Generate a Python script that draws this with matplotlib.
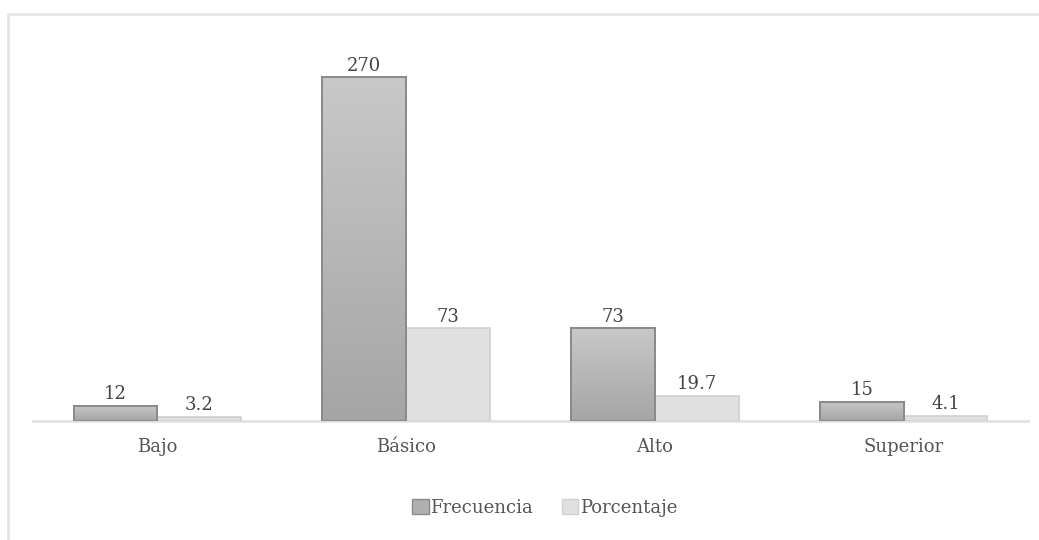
import numpy as np
import matplotlib
matplotlib.use("Agg")
import matplotlib.pyplot as plt
from matplotlib.lines import Line2D
from matplotlib.patches import Patch

# Data
categorias = ["Bajo", "Básico", "Alto", "Superior"]
frecuencia = [12, 270, 73, 15]
porcentaje = [3.2, 73, 19.7, 4.1]
etiquetas_frec = ["12", "270", "73", "15"]
etiquetas_porc = ["3.2", "73", "19.7", "4.1"]

plt.rcParams["font.family"] = ["DejaVu Serif"]

fig = plt.figure(figsize=(10.39, 5.40), dpi=100)
ax = fig.add_axes([33 / 1039, 1 - 421 / 540, 995 / 1039, 382 / 540])

x = np.arange(len(categorias))
w = 0.337

# Frequency bars with vertical gradient (lighter at top)
b1 = ax.bar(x - w / 2, frecuencia, w, color="#b6b6b6", edgecolor="#8a8a8a",
            linewidth=1.4, zorder=3, label="Frecuencia")
grad = np.linspace(0, 1, 256).reshape(-1, 1)
cmap = matplotlib.colors.LinearSegmentedColormap.from_list("g", ["#a5a5a5", "#c8c8c8"])
for r in b1:
    x0, y0 = r.get_x(), r.get_y()
    im = ax.imshow(grad, cmap=cmap, aspect="auto", zorder=3.5,
                   extent=[x0, x0 + r.get_width(), y0 + r.get_height(), y0],
                   origin="upper")
    im.set_clip_path(r)
    r2 = plt.Rectangle((x0, y0), r.get_width(), r.get_height(), fill=False,
                       edgecolor="#8a8a8a", linewidth=1.4, zorder=4)
    ax.add_patch(r2)

b2 = ax.bar(x + w / 2, porcentaje, w, color="#e0e0e0", edgecolor="#d0d0d0",
            linewidth=1.2, zorder=3, label="Porcentaje")

for r, t in zip(b1, etiquetas_frec):
    ax.text(r.get_x() + r.get_width() / 2, r.get_height() + 2, t,
            ha="center", va="bottom", fontsize=13, color="#444444")
for r, t in zip(b2, etiquetas_porc):
    ax.text(r.get_x() + r.get_width() / 2, r.get_height() + 2, t,
            ha="center", va="bottom", fontsize=13, color="#444444")

ax.set_xlim(-0.5, 3.5)
ax.set_ylim(0, 300)
ax.set_xticks(x)
ax.set_xticklabels(categorias, fontsize=13, color="#555555")
ax.tick_params(axis="x", length=0, pad=12)
ax.set_yticks([])
for s in ["top", "right", "left"]:
    ax.spines[s].set_visible(False)
ax.spines["bottom"].set_color("#e2e2e2")
ax.spines["bottom"].set_linewidth(2)
ax.spines["bottom"].set_zorder(2)

handles = [Patch(facecolor="#b0b0b0", edgecolor="#8a8a8a", label="Frecuencia"),
           Patch(facecolor="#e0e0e0", edgecolor="#d0d0d0", label="Porcentaje")]
fig.legend(handles=handles, loc="center", bbox_to_anchor=(545 / 1039, 1 - 508 / 540),
           ncol=2, frameon=False, fontsize=13, handlelength=0.9, handleheight=0.9,
           handletextpad=0.1, columnspacing=1.6, labelcolor="#555555")

# chart border (top and left only visible)
fig.add_artist(Line2D([8 / 1039, 8 / 1039], [0, 1 - 14 / 540], color="#e6e6e6", lw=2))
fig.add_artist(Line2D([8 / 1039, 1], [1 - 14 / 540, 1 - 14 / 540], color="#e6e6e6", lw=2))

fig.savefig("out.png", dpi=100)
